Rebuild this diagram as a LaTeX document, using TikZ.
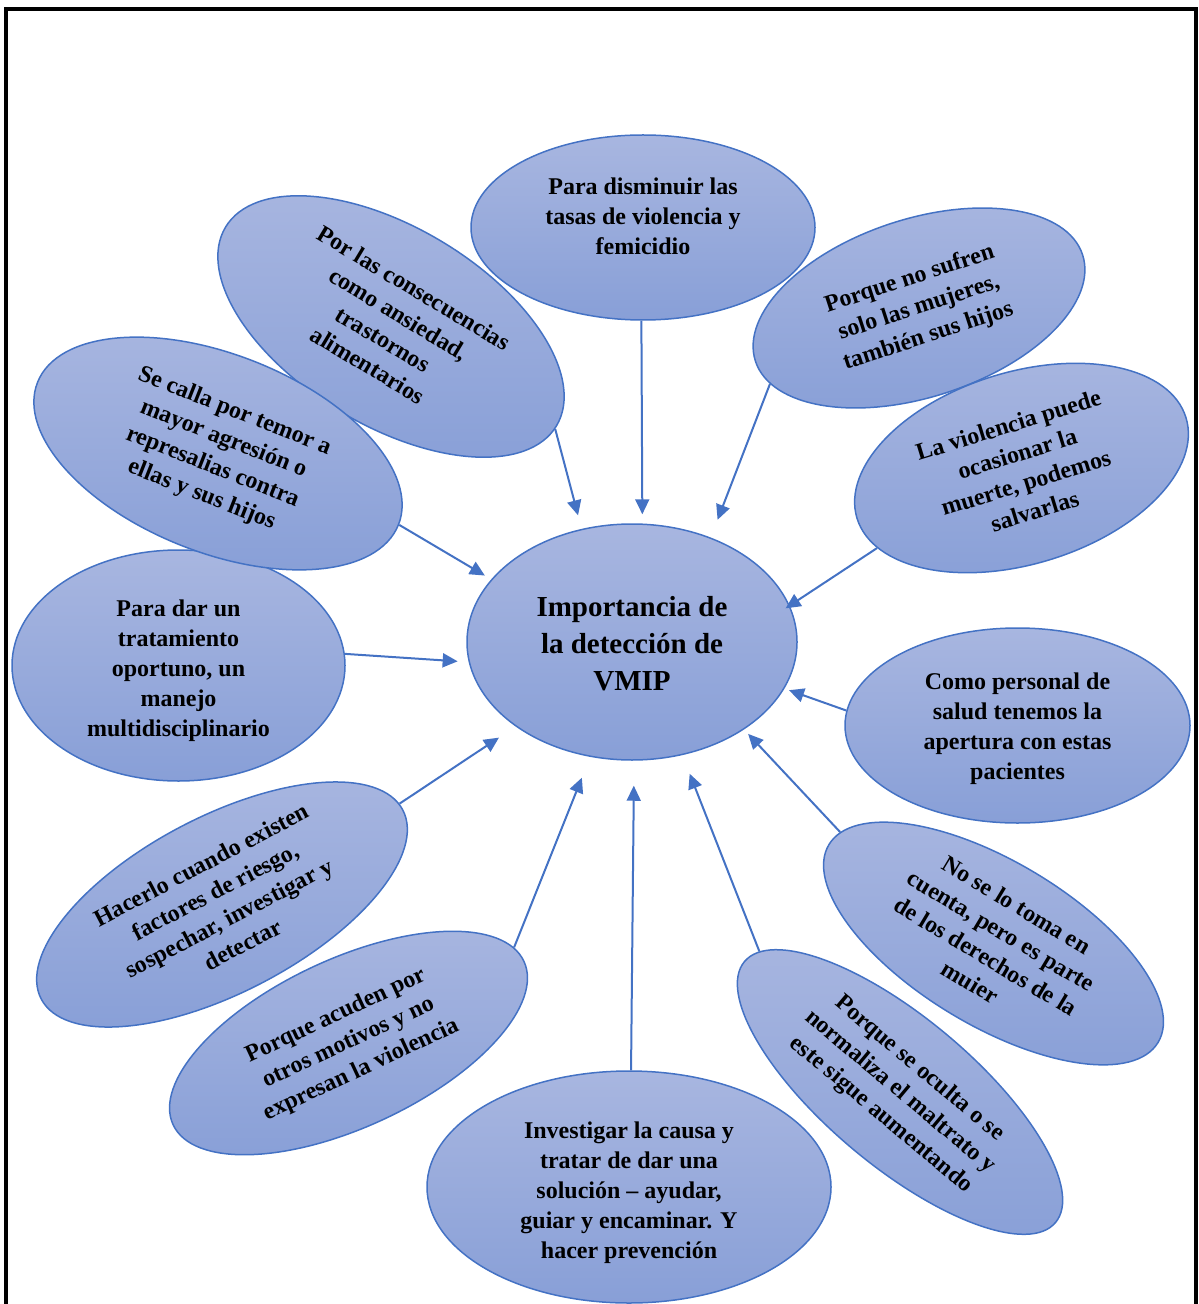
\documentclass[tikz,border=0pt]{standalone}
\usepackage{fontspec}
\setmainfont{Liberation Serif}
\usetikzlibrary{arrows.meta,shapes.geometric}
\definecolor{bubline}{HTML}{4472C4}
\definecolor{bubtop}{HTML}{A8B6E0}
\definecolor{bubbot}{HTML}{889FD7}
\begin{document}
\begin{tikzpicture}[x=0.5pt,y=-0.5pt,
  bubble/.style={ellipse, draw=bubline, line width=0.75pt,
    top color=bubtop, bottom color=bubbot, inner sep=0pt},
  txt/.style={align=center, inner sep=0pt,
    font=\fontsize{12}{15}\selectfont\bfseries},
  link/.style={draw=bubline, line width=1pt,
    -{Triangle[length=7.5pt,width=7pt]}},
]
\useasboundingbox (0,0) rectangle (1198,1304);

% outer frame (open at the bottom edge of the page)
\draw[line width=2.3pt] (6,1330) -- (6,9) -- (1196,9) -- (1196,1330);

% outer ellipses
\node[bubble, minimum width=172pt, minimum height=92.5pt] (dism) at (643,227.5) {};
\node[bubble, minimum width=193pt, minimum height=99pt, rotate=-31] (cons) at (391,326.5) {};
\node[bubble, minimum width=172pt, minimum height=89pt, rotate=18] (sufren) at (919,308) {};
\node[bubble, minimum width=172pt, minimum height=96pt, rotate=17] (violencia) at (1021.5,468) {};
\node[bubble, minimum width=172.5pt, minimum height=97.5pt] (personal) at (1017.5,725.5) {};
\node[bubble, minimum width=192pt, minimum height=82pt, rotate=-31] (toma) at (993.5,943.5) {};
\node[bubble, minimum width=203pt, minimum height=74pt, rotate=-40] (oculta) at (900,1092) {};
\node[bubble, minimum width=202pt, minimum height=116pt] (inv) at (629,1187) {};
\node[bubble, minimum width=193.5pt, minimum height=84pt, rotate=25] (acuden) at (348.5,1043) {};
\node[bubble, minimum width=204pt, minimum height=88pt, rotate=27.6] (hacerlo) at (222,904.5) {};
\node[bubble, minimum width=166.5pt, minimum height=115.5pt] (dar) at (178.5,665.5) {};
\node[bubble, minimum width=194pt, minimum height=99pt, rotate=-21.5] (calla) at (218,453.5) {};

% central ellipse
\node[bubble, minimum width=165pt, minimum height=118pt] (imp) at (632,642) {};

% texts
\node[txt] (dism-t) at ([yshift=5.5pt]dism.center) {Para disminuir las\\tasas de violencia y\\femicidio};
\node[txt, rotate=-31] (cons-t) at (cons) {Por las consecuencias\\como ansiedad,\\trastornos\\alimentarios};
\node[txt, rotate=18] (sufren-t) at (sufren) {Porque no sufren\\solo las mujeres,\\también sus hijos};
\node[txt, rotate=17] (violencia-t) at (violencia) {La violencia puede\\ocasionar la\\muerte, podemos\\salvarlas};
\node[txt] (personal-t) at ([yshift=-1.8pt]personal.center) {Como personal de\\salud tenemos la\\apertura con estas\\pacientes};
\node[txt, rotate=-31] (toma-t) at (toma) {No se lo toma en\\cuenta, pero es parte\\de los derechos de la\\muier};
\node[txt, rotate=-40] (oculta-t) at (oculta) {Porque se oculta o se\\normaliza el maltrato y\\este sigue aumentando};
\node[txt] (inv-t) at ([yshift=-3pt]inv.center) {Investigar la causa y\\tratar de dar una\\solución – ayudar,\\guiar y encaminar. Y\\hacer prevención};
\node[txt, rotate=25] (acuden-t) at (acuden) {Porque acuden por\\otros motivos y no\\expresan la violencia};
\node[txt, rotate=27.6] (hacerlo-t) at (hacerlo) {Hacerlo cuando existen\\factores de riesgo,\\sospechar, investigar y\\detectar};
\node[txt] (dar-t) at ([yshift=-2.8pt]dar.center) {Para dar un\\tratamiento\\oportuno, un\\manejo\\multidisciplinario};
\node[txt, rotate=-21.5] (calla-t) at (calla) {Se calla por temor a\\mayor agresión o\\represalias contra\\ellas y sus hijos};
\node[txt, font=\fontsize{14.5}{18.3}\selectfont\bfseries] (imp-t) at ([yshift=-0.8pt]imp.center) {Importancia de\\la detección de\\VMIP};

% connectors towards the central idea
\draw[link, shorten >=4.6pt] (dism.-91) -- (imp.85.5);
\draw[link, shorten >=7pt] (cons.-1) -- (imp.114.5);
\draw[link, shorten >=9.5pt] (sufren.189) -- (imp.53.7);
\draw[link, shorten >=-2.5pt] (violencia.192) -- (imp.13);
\draw[link, shorten >=2.4pt] (personal.175) -- (imp.-17.9);
\draw[link, shorten >=3pt] (toma.175) -- (imp.-38.1);
\draw[link, shorten >=10pt] (oculta.175) -- (imp.-66.1);
\draw[link, shorten >=12.5pt] (inv.89) -- (imp.-89.6);
\draw[link, shorten >=11.2pt] (acuden.5) -- (imp.-110.3);
\draw[link, shorten >=10pt] (hacerlo.2) -- (imp.-144);
\draw[link, shorten >=5.5pt] (dar.4) -- (imp.-173.4);
\draw[link, shorten >=3.7pt] (calla.0) -- (imp.156.6);
\end{tikzpicture}
\end{document}
